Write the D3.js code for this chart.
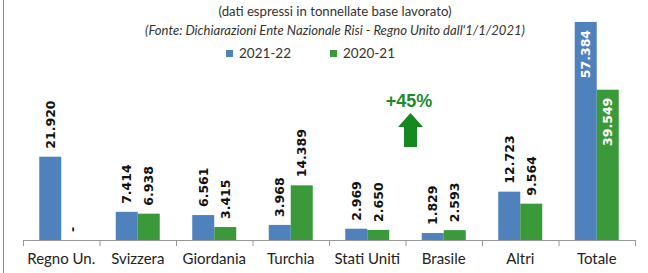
<!DOCTYPE html>
<html><head><meta charset="utf-8">
<script src="https://cdn.jsdelivr.net/npm/d3@7"></script>
<style>body{margin:0;background:#fff}svg{display:block}</style>
</head><body>
<svg id="c" width="648" height="273"></svg>
<script>
const categories = ["Regno Un.","Svizzera","Giordania","Turchia","Stati Uniti","Brasile","Altri","Totale"];
const series = ["2021-22","2020-21"];
const values2122 = [21920, 7414, 6561, 3968, 2969, 1829, 12723, 57384];
const values2021 = [null, 6938, 3415, 14389, 2650, 2593, 9564, 39549];
const labels2122 = ["21.920","7.414","6.561","3.968","2.969","1.829","12.723","57.384"];
const labels2021 = ["-","6.938","3.415","14.389","2.650","2.593","9.564","39.549"];
const subtitle = "(dati espressi in tonnellate base lavorato)";
const source = "(Fonte: Dichiarazioni Ente Nazionale Risi - Regno Unito dall'1/1/2021)";
const growth = "+45%";

const colors = {"2021-22":"#4f81bd","2020-21":"#3a9a3a"};
const svg = d3.select("#c");

svg.append("line").attr("x1",3.5).attr("x2",3.5).attr("y1",0).attr("y2",273)
  .attr("stroke","#8c8c8c").attr("stroke-width",1);

const x = d3.scaleBand().domain(categories).range([23,635]).padding(0);
const xs = d3.scaleBand().domain(series).range([-22,22]).padding(0);
const y = d3.scaleLinear().domain([0,60000]).range([240,12]);

const rows = categories.map((c,i)=>({c, vals:[
  {s:"2021-22", v:values2122[i], l:labels2122[i]},
  {s:"2020-21", v:values2021[i], l:labels2021[i]}]}));

const g = svg.append("g").selectAll("g").data(rows).join("g")
  .attr("transform",d=>`translate(${x(d.c)+x.bandwidth()/2},0)`);

g.selectAll("rect").data(d=>d.vals.filter(v=>v.v!=null)).join("rect")
  .attr("x",d=>xs(d.s)).attr("width",xs.bandwidth())
  .attr("y",d=>y(d.v)).attr("height",d=>y(0)-y(d.v))
  .attr("fill",d=>colors[d.s]);

g.each(function(d){
  const inside = d.c==="Totale";
  d3.select(this).selectAll("text.v").data(d.vals).join("text").attr("class","v")
    .attr("transform",v=>{
      const cx = xs(v.s)+xs.bandwidth()/2;
      const yy = inside ? y(v.v)+8 : y(v.v||0)-8;
      return `translate(${cx},${yy}) rotate(-90)`;
    })
    .attr("text-anchor",inside?"end":"start")
    .attr("dominant-baseline","central")
    .attr("font-family","DejaVu Sans")
    .attr("font-weight","bold")
    .attr("font-size",12.5)
    .attr("fill",inside?"#fff":"#111")
    .text(v=>v.l);
});

// axis
const axis = d3.axisBottom(x).tickSize(0).tickPadding(0);
const ax = svg.append("g").attr("transform","translate(0,240)");
ax.append("line").attr("x1",23).attr("x2",636).attr("y1",0.5).attr("y2",0.5).attr("stroke","#999");
const bounds = categories.map(c=>x(c)).concat([x.range()[1]]);
ax.selectAll("line.t").data(bounds).join("line").attr("class","t")
  .attr("x1",d=>d+0.5).attr("x2",d=>d+0.5).attr("y1",0).attr("y2",6).attr("stroke","#999");
ax.selectAll("text.c").data(categories).join("text").attr("class","c")
  .attr("x",c=>x(c)+x.bandwidth()/2).attr("y",24)
  .attr("text-anchor","middle").attr("font-family","Lato").attr("font-size",15)
  .attr("fill","#222").text(c=>c);

// titles
svg.append("text").attr("x",335).attr("y",16).attr("text-anchor","middle")
  .attr("font-family","Lato").attr("font-size",12.5).attr("fill","#333")
  .attr("textLength",233).attr("lengthAdjust","spacingAndGlyphs").text(subtitle);
svg.append("text").attr("x",335).attr("y",35).attr("text-anchor","middle")
  .attr("font-family","Lato").attr("font-style","italic").attr("font-size",12.5).attr("fill","#333")
  .attr("textLength",380).attr("lengthAdjust","spacingAndGlyphs").text(source);

// legend
const lg = svg.append("g").selectAll("g").data(series).join("g")
  .attr("transform",(d,i)=>`translate(${226+i*104},50)`);
lg.append("rect").attr("width",7).attr("height",7).attr("fill",d=>colors[d]);
lg.append("text").attr("x",13).attr("y",8).attr("font-family","Lato").attr("font-size",13.5)
  .attr("fill","#333").text(d=>d);

// growth annotation
svg.append("text").attr("x",409).attr("y",107).attr("text-anchor","middle")
  .attr("font-family","Liberation Sans").attr("font-weight","bold").attr("font-size",18)
  .attr("fill","#1e8c2a").text(growth);
const ar = svg.append("g").attr("transform","translate(410.5,113)");
ar.append("path").attr("d","M0,0 L12.5,14 L6.5,14 L6.5,34 L-6.5,34 L-6.5,14 L-12.5,14 Z")
  .attr("fill","#14891f");
</script>
</body></html>
